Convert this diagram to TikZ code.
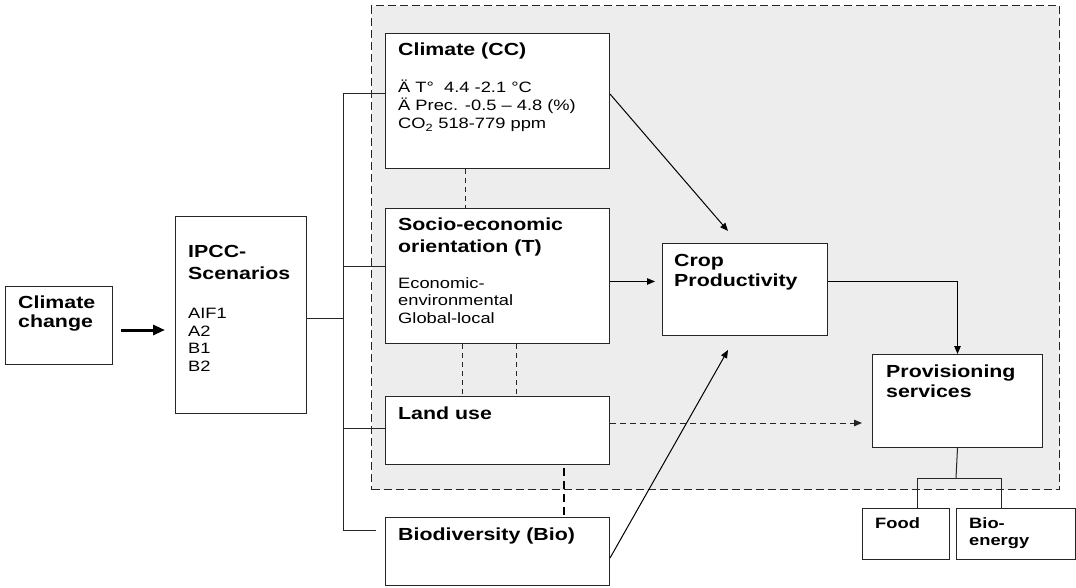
\documentclass[tikz,border=0pt]{standalone}
\usepackage{fontspec}
\setmainfont{Liberation Sans}[FakeStretch=1.22]
\usetikzlibrary{arrows.meta,calc}
\newcommand\bfbig{\fontsize{17.5}{20}\selectfont\bfseries}
\newcommand\bfsmall{\fontsize{15}{18}\selectfont\bfseries}
\newcommand\rgtext{\fontsize{15}{18}\selectfont}
\tikzset{
  box/.style={draw=black!85, line width=1pt, fill=white, inner sep=0pt, anchor=north west},
  ttl/.style={anchor=base west, inner sep=0pt, font=\bfbig},
  ttls/.style={anchor=base west, inner sep=0pt, font=\bfsmall},
  txt/.style={anchor=base west, inner sep=0pt, font=\rgtext},
  conn/.style={draw=black!85, line width=1pt},
  arr/.style={draw=black, line width=1pt, -{Triangle[length=8pt,width=6.5pt]}},
  dashline/.style={draw=black!85, line width=1pt, dash pattern=on 5pt off 4pt},
  thickdash/.style={draw=black, line width=2.2pt, dash pattern=on 8pt off 5pt},
}
\begin{document}
\begin{tikzpicture}[x=1pt,y=-1pt]
\useasboundingbox (0,0) rectangle (1076,588);
% shaded region
\node[draw=black!85, fill=gray!14, line width=1.4pt, dash pattern=on 8pt off 4pt, inner sep=0pt, anchor=north west,
  minimum width=688pt, minimum height=484pt] (region) at (371,5) {};
% boxes
\node[box, minimum width=107pt, minimum height=78pt] (clch) at (5,286) {};
\node[box, minimum width=131pt, minimum height=197pt] (ipcc) at (175,216) {};
\node[box, minimum width=224pt, minimum height=135pt] (cc) at (385,33) {};
\node[box, minimum width=224pt, minimum height=135pt] (socio) at (385,208) {};
\node[box, minimum width=224pt, minimum height=68pt] (land) at (385,396) {};
\node[box, minimum width=224pt, minimum height=68pt] (bio) at (385,517) {};
\node[box, minimum width=165pt, minimum height=92pt] (crop) at (662,243) {};
\node[box, minimum width=170pt, minimum height=93pt] (prov) at (872,354) {};
\node[box, minimum width=87pt, minimum height=51pt] (food) at (862,508) {};
\node[box, minimum width=119pt, minimum height=51pt] (bioen) at (956,508) {};
% texts
\node[ttl] (clch1) at (18,308) {Climate};
\node[ttl] (clch2) at (18,327) {change};
\node[ttl] (ipcc1) at (188,257) {IPCC-};
\node[ttl] (ipcc2) at (188,279) {Scenarios};
\node[txt] (ipcc3) at (188,318) {AIF1};
\node[txt] (ipcc4) at (188,336) {A2};
\node[txt] (ipcc5) at (188,353) {B1};
\node[txt] (ipcc6) at (188,371) {B2};
\node[ttl] (cc1) at (398,56) {Climate (CC)};
\node[txt] (cc2) at (398,93) {Ä T°\ \ 4.4 -2.1 °C};
\node[txt] (cc3) at (398,111) {Ä Prec. -0.5 – 4.8 (\%)};
\node[txt] (cc4) at (398,129) {CO\textsubscript{2} 518-779 ppm};
\node[ttl] (so1) at (398,230) {Socio-economic};
\node[ttl] (so2) at (398,252) {orientation (T)};
\node[txt] (so3) at (398,288) {Economic-};
\node[txt] (so4) at (398,305) {environmental};
\node[txt] (so5) at (398,323) {Global-local};
\node[ttl] (la1) at (398,419) {Land use};
\node[ttl] (bi1) at (398,540) {Biodiversity (Bio)};
\node[ttl] (cr1) at (674,266) {Crop};
\node[ttl] (cr2) at (674,286) {Productivity};
\node[ttl] (pr1) at (886,377) {Provisioning};
\node[ttl] (pr2) at (886,397) {services};
\node[ttls] (fo1) at (875,528) {Food};
\node[ttls] (be1) at (969,528) {Bio-};
\node[ttls] (be2) at (969,545) {energy};
% thick arrow climate change -> IPCC
\coordinate (ta1) at (121,330);
\coordinate (ta2) at (165,330);
\draw[line width=3pt, -{Triangle[length=12pt,width=10pt]}] (ta1) -- (ta2);
% trunk
\coordinate (tr0) at (343,318);
\coordinate (tr1) at (343,94);
\coordinate (tr2) at (343,266);
\coordinate (tr3) at (343,428);
\coordinate (tr4) at (343,530);
\draw[conn] (tr0 -| ipcc.east) -- (tr0);
\draw[conn] (tr1) -- (tr4);
\draw[conn] (tr1) -- (tr1 -| cc.west);
\draw[conn] (tr2) -- (tr2 -| socio.west);
\draw[conn] (tr3) -- (tr3 -| land.west);
\draw[conn] (tr4) -- ($(tr4 -| bio.west)+(-9,0)$);
% dashed links between boxes
\draw[dashline] ($(cc.south west)+(80,0)$) -- ($(socio.north west)+(80,0)$);
\draw[dashline] ($(socio.south west)+(77,0)$) -- ($(land.north west)+(77,0)$);
\draw[dashline] ($(socio.south west)+(131,0)$) -- ($(land.north west)+(131,0)$);
\draw[thickdash] ($(land.south west)+(179,3)$) -- ($(bio.north west)+(179,1)$);
% arrows to crop
\coordinate (ca1) at (728,231);
\coordinate (ca2) at (728,350);
\draw[arr] (tr1 -| cc.east) -- (ca1);
\draw[arr] (socio.east |- cr2) -- ($(crop.west |- cr2)+(-7,0)$);
\coordinate (bs) at (609,558);
\draw[arr] (bs -| bio.east) -- (ca2);
% crop -> provisioning
\draw[arr] (crop.east |- cr2) -| (prov.north);
% land use -> provisioning dashed
\coordinate (ld) at (609,423);
\draw[dashline, dash pattern=on 6pt off 4pt, -{Triangle[length=8pt,width=6.5pt]}] (ld -| land.east) -- ($(ld -| prov.west)+(-10,0)$);
% provisioning -> food / bio-energy
\coordinate (pj) at (956,478);
\coordinate (pf) at (917,478);
\coordinate (pb) at (1001,478);
\draw[conn] (prov.south) -- (pj);
\draw[conn] (pf |- food.north) -- (pf) -- (pb) -- (pb |- bioen.north);
\end{tikzpicture}
\end{document}
